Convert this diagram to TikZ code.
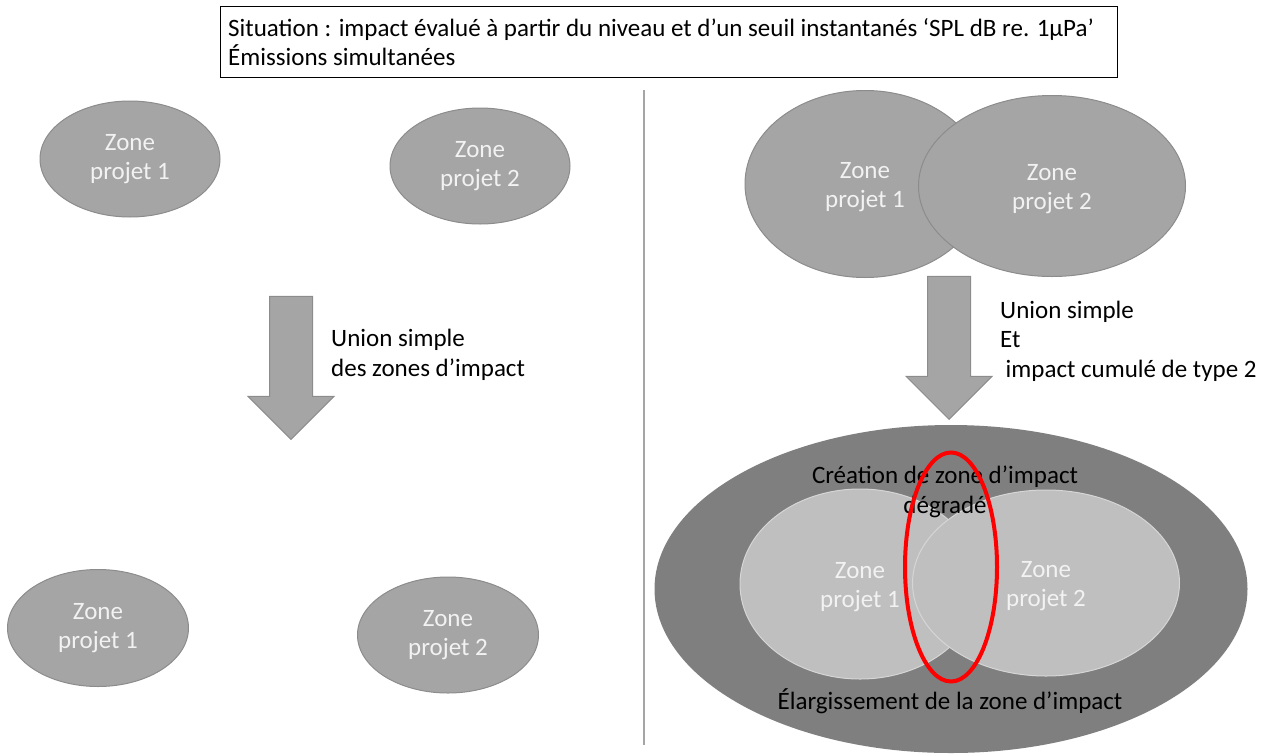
\documentclass[tikz,border=0pt]{standalone}
\usepackage{fontspec}
\setmainfont{Carlito}
\usepackage{tikz}
\usetikzlibrary{shapes,arrows,positioning}
\definecolor{zonefill}{HTML}{A5A5A5}
\definecolor{zoneline}{HTML}{8C8C8C}
\definecolor{zonetext}{HTML}{F2F2F2}
\definecolor{darkzone}{HTML}{7F7F7F}
\definecolor{lightzone}{HTML}{BFBFBF}
\definecolor{lightline}{HTML}{D6D6D6}

\begin{document}
\begin{tikzpicture}[x=1pt,y=-1pt,inner sep=0pt,
            font=\fontsize{25}{29.5}\selectfont,
            zone/.style={ellipse,draw=zoneline,fill=zonefill,text=zonetext,
            align=center,line width=1pt},
            fleche/.style={single arrow,draw=zoneline,fill=zonefill,
            rotate=-90,minimum height=143pt,minimum width=85pt,inner xsep=0pt,
            inner ysep=21pt,single arrow head extend=21.5pt,line width=1pt}]
            \useasboundingbox (0,0) rectangle (1274,755);
            \node[draw,line width=1pt,anchor=north west,minimum width=897pt,
            minimum height=71pt](s0) at (220,6) {};
            \node[anchor=west,align=left](s1) at ([xshift=8pt]s0.west)
            {Situation : impact évalué à partir du niveau et d’un seuil
            instantanés ‘SPL dB re. 1µPa’\\Émissions simultanées};
            \draw[line width=1.2pt,color=zonefill] (644,90) -- (644,745);
            % left : separate zones
            \node[zone,minimum width=180pt,minimum height=116pt](z1) at
            (130,159) {Zone\\projet 1};
            \node[zone,minimum width=180pt,minimum height=116pt](z2) at
            (480,166) {Zone\\projet 2};
            \node[fleche,anchor=tip](a0) at (291,440) {};
            \node[anchor=west,align=left](t0) at (331,355) {Union simple\\des
            zones d’impact};
            \node[zone,minimum width=181pt,minimum height=117pt](z3) at
            (98,628) {Zone\\projet 1};
            \node[zone,minimum width=181pt,minimum height=116pt](z4) at
            (448,635) {Zone\\projet 2};
            % right : overlapping zones
            \node[zone,minimum width=240pt,minimum height=187pt](w1) at
            (865,184) {};
            \node[zone,minimum width=267pt,minimum height=181pt](w2) at
            (1052,186) {};
            \node[text=zonetext,align=center] at ([yshift=-3pt]w1) {Zone\\projet 1};
            \node[text=zonetext,align=center] at ([yshift=-3pt]w2) {Zone\\projet 2};
            \node[fleche,anchor=tip](a1) at (949,420) {};
            \node[anchor=west,align=left](t1) at (1000,341) {Union simple\\Et\\
            \hspace*{0.22em}impact cumulé de type 2};
            \node[ellipse,fill=darkzone,minimum width=593pt,minimum height=328pt]
            (w0) at (951,589) {};
            \node[zone,fill=lightzone,draw=lightline,minimum width=240pt,
            minimum height=190pt](w3) at (860,584) {};
            \node[zone,fill=lightzone,draw=lightline,minimum width=267pt,
            minimum height=186pt](w4) at (1046,583) {};
            \node[text=zonetext,align=center] at ([yshift=-3pt]w3) {Zone\\projet 1};
            \node[text=zonetext,align=center] at ([yshift=-3pt]w4) {Zone\\projet 2};
            \node[align=center](t2) at (945,492) {Création de zone d’impact\\
            dégradé};
            \node(t3) at (950,701) {Élargissement de la zone d’impact};
            \node[ellipse,draw=red,line width=4pt,minimum width=92pt,
            minimum height=229pt](c0) at (951,567) {};
            %\node[zone] (w5) at (w0.south) {};
        \end{tikzpicture}
\end{document}
